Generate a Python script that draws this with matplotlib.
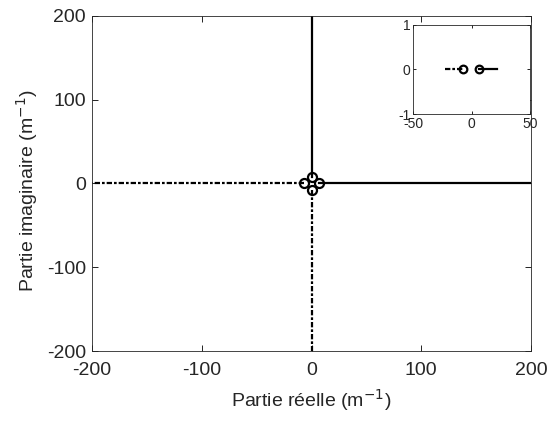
import matplotlib
matplotlib.use("Agg")
import matplotlib.pyplot as plt

plt.rcParams["font.family"] = ["Liberation Sans", "DejaVu Sans"]
plt.rcParams["axes.unicode_minus"] = False

# branches in the complex plane (real, imag), m^-1
pos_real_x = [7, 200]
pos_real_y = [0, 0]
neg_real_x = [-7, -200]
neg_real_y = [0, 0]
pos_imag_x = [0, 0]
pos_imag_y = [8, 200]
neg_imag_x = [0, 0]
neg_imag_y = [-8, -200]

# starting points (circles)
start_x = [7, -7, 0, 0]
start_y = [0, 0, 8, -8]

# inset: zoom on the real axis
inset_solid_x = [6, 22]
inset_dash_x = [-23, -7]
inset_start_x = [6, -7]

dashdot = (0, (2.4, 0.9, 1.2, 0.9))
ink = "#262626"


def style_box(ax):
    ax.tick_params(direction="in", top=True, right=True, length=4, width=0.6)
    for s in ax.spines.values():
        s.set_linewidth(0.6)
        s.set_color(ink)


fig = plt.figure(figsize=(5.48, 4.23), dpi=100)
ax = fig.add_axes([92 / 548, 1 - 351 / 423, 439 / 548, 335 / 423])

ax.plot(pos_real_x, pos_real_y, color="black", lw=1.6)
ax.plot(pos_imag_x, pos_imag_y, color="black", lw=1.6)
ax.plot(neg_real_x, neg_real_y, color="black", lw=1.6, linestyle=dashdot)
ax.plot(neg_imag_x, neg_imag_y, color="black", lw=1.6, linestyle=dashdot)
ax.plot(start_x, start_y, "o", ms=6.5, mfc="none", mec="black", mew=1.6)

ax.set_xlim(-200, 200)
ax.set_ylim(-200, 200)
ax.set_xticks([-200, -100, 0, 100, 200])
ax.set_yticks([-200, -100, 0, 100, 200])
style_box(ax)
ax.tick_params(labelsize=14, labelcolor=ink)
ax.tick_params(axis="x", pad=8)
ax.tick_params(axis="y", pad=4.5)

ax.set_xlabel("Partie réelle (m$^{-1}$)", fontsize=14, color=ink)
ax.xaxis.set_label_coords(0.5, (351 - 407) / 335)
ax.xaxis.label.set_va("baseline")
ax.set_ylabel("Partie imaginaire (m$^{-1}$)", fontsize=14, color=ink)
ax.yaxis.set_label_coords((27 - 92) / 439, 0.48)
ax.yaxis.label.set_va("center")

axin = fig.add_axes([413 / 548, 1 - 114 / 423, 117 / 548, 89 / 423])
axin.plot(inset_solid_x, [0, 0], color="black", lw=1.6)
axin.plot(inset_dash_x, [0, 0], color="black", lw=1.6, linestyle=dashdot)
axin.plot(inset_start_x, [0, 0], "o", ms=5.5, mfc="none", mec="black", mew=1.6)
axin.set_xlim(-50, 50)
axin.set_ylim(-1, 1)
axin.set_xticks([-50, 0, 50])
axin.set_yticks([-1, 0, 1])
style_box(axin)
axin.tick_params(labelsize=10, pad=2, length=2.5, labelcolor=ink)

fig.savefig("out.png", dpi=100)
